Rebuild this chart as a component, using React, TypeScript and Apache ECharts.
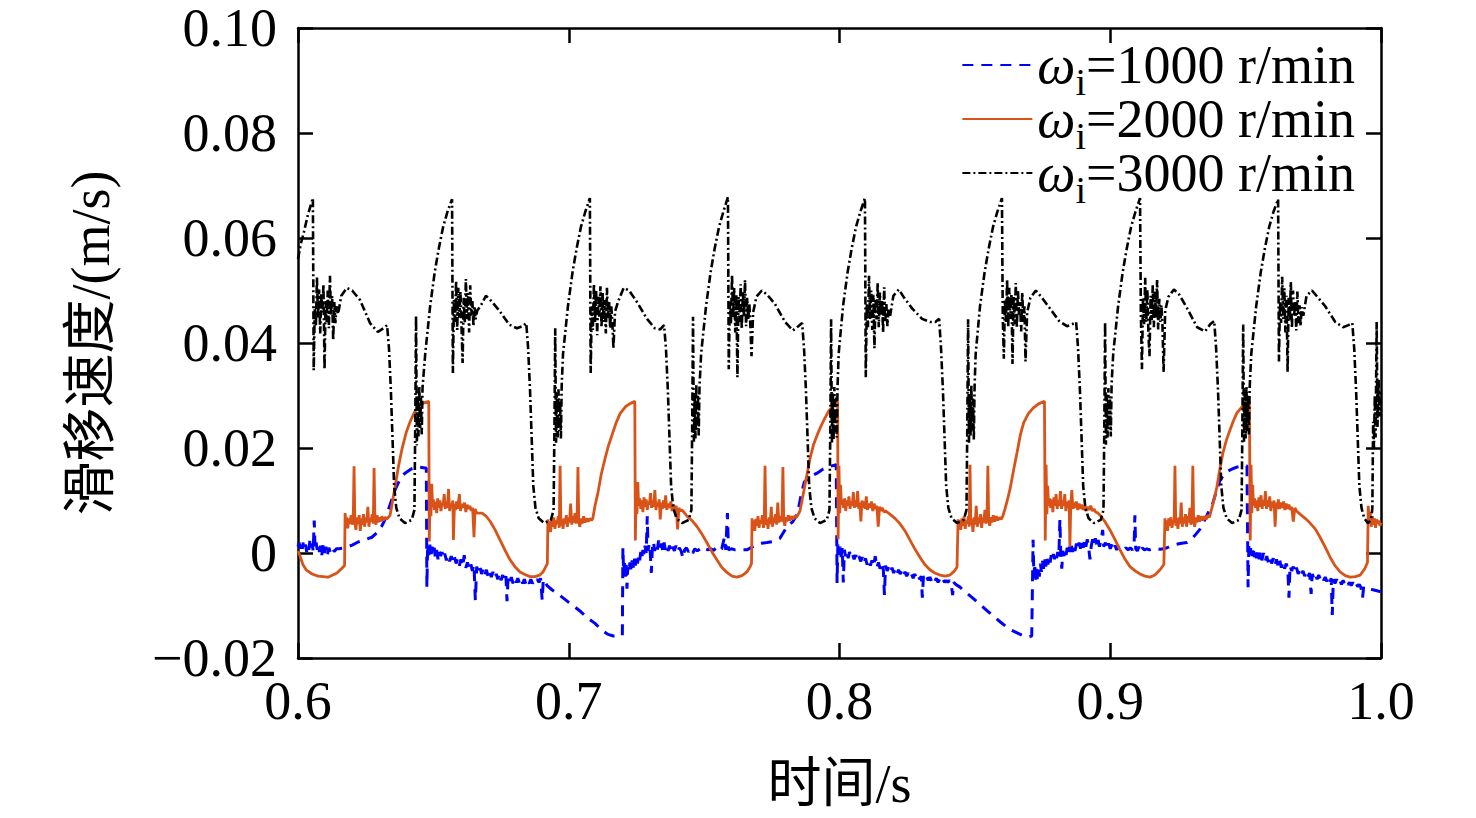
import { useEffect, useRef } from 'react';
import * as echarts from 'echarts';

const FONT = "'Liberation Serif', 'Times New Roman', 'Noto Sans CJK SC', serif";

// 图例名称（ω 与下标 i 由 formatter 拼成富文本）
const seriesNames = ['ωi=1000 r/min', 'ωi=2000 r/min', 'ωi=3000 r/min'];
const seriesColors = ['#0000ff', '#d95319', '#000000'];

const xTicks = [0.6, 0.7, 0.8, 0.9, 1.0];
const yTicks = [-0.02, 0, 0.02, 0.04, 0.06, 0.08, 0.1];

// ω=1000 r/min，[时间 s, 滑移速度 m/s]
const slip1000: [number, number][] = [
  [0.6000,0.0012],[0.6004,0.0020],[0.6008,0.0006],[0.6012,0.0018],[0.6016,0.0008],[0.6020,0.0022],[0.6024,0.0010],[0.6028,0.0016],
  [0.6032,0.0002],[0.6036,0.0014],[0.6040,0.0006],[0.6044,0.0024],[0.6048,0.0010],[0.6052,0.0018],[0.6056,0.0004],[0.6060,0.0062],
  [0.6063,0.0008],[0.6067,0.0020],[0.6071,0.0006],[0.6075,0.0018],[0.6079,0.0002],[0.6083,0.0014],[0.6088,-0.0004],[0.6093,0.0016],
  [0.6098,0.0000],[0.6103,0.0012],[0.6108,-0.0006],[0.6114,0.0010],[0.6120,0.0000],[0.6127,0.0009],[0.6134,0.0003],[0.6142,0.0008],
  [0.6150,0.0008],
  [0.6174,0.0010],[0.6200,0.0015],[0.6222,0.0021],[0.6250,0.0026],[0.6273,0.0030],[0.6295,0.0040],[0.6310,0.0052],[0.6321,0.0063],
  [0.6340,0.0092],[0.6358,0.0120],[0.6376,0.0140],[0.6395,0.0152],[0.6418,0.0160],[0.6440,0.0164],[0.6469,0.0162],[0.6474,0.0162],
  [0.6476,-0.0065],[0.6479,0.0018],[0.6483,-0.0004],[0.6487,0.0016],[0.6491,-0.0010],[0.6495,0.0012],[0.6499,-0.0002],[0.6503,0.0010],
  [0.6507,-0.0008],[0.6512,0.0006],[0.6517,-0.0012],[0.6522,0.0004],[0.6527,-0.0006],[0.6532,0.0002],[0.6537,-0.0010],[0.6542,-0.0001],
  [0.6548,-0.0014],[0.6554,-0.0004],[0.6560,-0.0016],[0.6566,-0.0006],[0.6572,-0.0018],[0.6578,-0.0008],[0.6584,-0.0020],[0.6590,-0.0010],
  [0.6596,-0.0024],[0.6602,-0.0012],[0.6608,-0.0026],[0.6614,-0.0004],[0.6620,-0.0028],[0.6626,-0.0018],[0.6632,-0.0030],[0.6638,-0.0020],
  [0.6644,-0.0034],[0.6650,-0.0022],[0.6655,-0.0090],[0.6660,-0.0026],[0.6666,-0.0036],[0.6672,-0.0026],[0.6678,-0.0040],[0.6684,-0.0030],
  [0.6690,-0.0042],[0.6696,-0.0032],[0.6702,-0.0044],[0.6708,-0.0034],[0.6714,-0.0046],[0.6720,-0.0036],[0.6726,-0.0048],[0.6732,-0.0040],
  [0.6738,-0.0050],[0.6744,-0.0038],[0.6750,-0.0052],[0.6756,-0.0042],[0.6762,-0.0054],[0.6768,-0.0044],[0.6772,-0.0092],[0.6776,-0.0046],
  [0.6782,-0.0056],[0.6788,-0.0046],[0.6794,-0.0058],[0.6800,-0.0048],[0.6806,-0.0056],[0.6812,-0.0048],[0.6818,-0.0058],[0.6824,-0.0050],
  [0.6830,-0.0058],[0.6836,-0.0050],[0.6842,-0.0060],[0.6848,-0.0052],[0.6854,-0.0058],[0.6860,-0.0050],[0.6866,-0.0058],[0.6872,-0.0052],
  [0.6878,-0.0056],[0.6884,-0.0050],[0.6890,-0.0056],[0.6896,-0.0048],[0.6902,-0.0090],[0.6906,-0.0050],
  [0.6920,-0.0062],[0.6938,-0.0070],[0.6960,-0.0078],[0.6980,-0.0086],[0.7000,-0.0094],[0.7023,-0.0103],[0.7045,-0.0112],[0.7070,-0.0124],
  [0.7097,-0.0134],[0.7120,-0.0146],[0.7145,-0.0155],[0.7165,-0.0158],[0.7189,-0.0158],[0.7198,-0.0157],
  [0.7200,0.0010],[0.7203,-0.0040],[0.7206,-0.0018],[0.7209,-0.0045],[0.7212,-0.0022],[0.7215,-0.0068],[0.7218,-0.0026],[0.7222,-0.0036],
  [0.7226,-0.0018],[0.7230,-0.0032],[0.7234,-0.0014],[0.7238,-0.0028],[0.7242,-0.0010],[0.7246,-0.0024],[0.7250,-0.0006],[0.7254,-0.0020],
  [0.7258,-0.0002],[0.7262,-0.0014],[0.7266,0.0002],[0.7270,-0.0010],[0.7274,0.0006],[0.7278,-0.0004],[0.7282,0.0014],[0.7286,0.0000],
  [0.7290,0.0070],[0.7293,0.0004],[0.7297,0.0018],[0.7301,0.0002],[0.7305,-0.0038],[0.7309,0.0010],[0.7313,0.0022],[0.7317,0.0004],
  [0.7322,0.0016],[0.7327,0.0006],[0.7332,0.0024],[0.7337,0.0008],[0.7342,0.0018],[0.7347,0.0004],[0.7352,0.0020],[0.7357,0.0006],
  [0.7362,0.0016],[0.7367,0.0004],[0.7372,0.0014],[0.7378,0.0002],[0.7384,0.0012],[0.7390,0.0004],[0.7396,0.0014],[0.7402,0.0002],
  [0.7408,0.0010],[0.7415,0.0004],[0.7422,-0.0010],[0.7428,0.0006],[0.7435,0.0010],[0.7442,0.0002],[0.7450,0.0008],[0.7458,0.0000],
  [0.7466,0.0008],[0.7475,0.0004],[0.7485,0.0008],[0.7495,0.0004],[0.7505,0.0008],[0.7515,0.0006],[0.7525,0.0008],[0.7535,0.0005],
  [0.7545,0.0010],[0.7555,0.0004],[0.7565,0.0008],[0.7575,0.0030],[0.7580,0.0006],[0.7586,0.0076],[0.7590,0.0006],[0.7600,0.0008],
  [0.7615,0.0006],[0.7630,0.0007],[0.7645,0.0006],[0.7658,0.0006],
  [0.7680,0.0012],[0.7705,0.0018],[0.7732,0.0020],[0.7755,0.0022],[0.7780,0.0028],[0.7806,0.0050],[0.7828,0.0060],[0.7845,0.0075],
  [0.7858,0.0110],[0.7870,0.0135],[0.7890,0.0145],[0.7917,0.0152],[0.7940,0.0160],[0.7965,0.0165],[0.7988,0.0168],
  [0.7991,-0.0057],[0.7994,0.0016],[0.7998,-0.0004],[0.8002,0.0012],[0.8006,-0.0008],[0.8010,0.0010],[0.8014,-0.0056],[0.8018,0.0006],
  [0.8022,-0.0006],[0.8027,0.0004],[0.8032,-0.0010],[0.8037,0.0002],[0.8042,-0.0008],[0.8048,-0.0002],[0.8054,-0.0012],[0.8060,-0.0004],
  [0.8066,-0.0014],[0.8072,-0.0006],[0.8078,-0.0016],[0.8084,-0.0008],[0.8090,-0.0020],[0.8096,-0.0010],[0.8102,-0.0022],[0.8108,-0.0012],
  [0.8114,-0.0024],[0.8120,-0.0014],[0.8126,-0.0026],[0.8132,-0.0006],[0.8138,-0.0028],[0.8144,-0.0018],[0.8150,-0.0030],[0.8156,-0.0020],
  [0.8162,-0.0032],[0.8166,-0.0080],[0.8170,-0.0024],[0.8176,-0.0034],[0.8182,-0.0026],[0.8188,-0.0036],[0.8194,-0.0028],[0.8200,-0.0038],
  [0.8206,-0.0030],[0.8212,-0.0040],[0.8218,-0.0032],[0.8224,-0.0040],[0.8230,-0.0034],[0.8236,-0.0044],[0.8242,-0.0036],[0.8248,-0.0044],
  [0.8254,-0.0038],[0.8260,-0.0046],[0.8266,-0.0040],[0.8272,-0.0048],[0.8278,-0.0040],[0.8284,-0.0048],[0.8290,-0.0042],[0.8296,-0.0050],
  [0.8302,-0.0044],[0.8306,-0.0085],[0.8310,-0.0044],[0.8316,-0.0052],[0.8322,-0.0046],[0.8328,-0.0052],[0.8334,-0.0046],[0.8340,-0.0054],
  [0.8346,-0.0048],[0.8352,-0.0054],[0.8358,-0.0048],[0.8364,-0.0056],[0.8370,-0.0050],[0.8376,-0.0056],[0.8382,-0.0050],[0.8388,-0.0056],
  [0.8394,-0.0052],[0.8400,-0.0056],[0.8406,-0.0052],[0.8412,-0.0058],[0.8418,-0.0080],[0.8422,-0.0056],
  [0.8430,-0.0060],[0.8445,-0.0065],[0.8465,-0.0074],[0.8488,-0.0084],[0.8510,-0.0094],[0.8530,-0.0103],[0.8550,-0.0112],[0.8572,-0.0122],
  [0.8593,-0.0131],[0.8615,-0.0140],[0.8635,-0.0147],[0.8656,-0.0152],[0.8676,-0.0157],[0.8696,-0.0160],[0.8710,-0.0158],
  [0.8715,0.0025],[0.8718,-0.0045],[0.8721,-0.0020],[0.8724,-0.0057],[0.8727,-0.0030],[0.8730,-0.0050],[0.8734,-0.0025],[0.8738,-0.0045],
  [0.8742,-0.0020],[0.8746,-0.0036],[0.8750,-0.0015],[0.8754,-0.0030],[0.8758,-0.0012],[0.8762,-0.0026],[0.8766,-0.0008],[0.8770,-0.0022],
  [0.8774,-0.0006],[0.8778,-0.0018],[0.8782,-0.0004],[0.8786,-0.0014],[0.8790,-0.0002],[0.8794,-0.0012],[0.8798,0.0000],[0.8802,-0.0010],
  [0.8806,0.0002],[0.8810,-0.0008],[0.8814,0.0064],[0.8817,0.0000],[0.8821,-0.0030],[0.8825,0.0004],[0.8829,-0.0006],[0.8833,0.0008],
  [0.8837,-0.0004],[0.8841,0.0010],[0.8845,-0.0002],[0.8849,0.0012],[0.8853,0.0000],[0.8857,0.0014],[0.8861,0.0002],[0.8865,0.0016],
  [0.8870,0.0004],[0.8875,0.0018],[0.8880,0.0006],[0.8885,0.0020],[0.8890,0.0008],[0.8895,0.0022],[0.8900,0.0010],[0.8905,0.0024],
  [0.8910,0.0012],[0.8915,0.0026],[0.8920,0.0012],[0.8925,-0.0012],[0.8930,0.0014],[0.8935,0.0026],[0.8940,0.0014],[0.8945,0.0028],
  [0.8950,0.0014],[0.8955,0.0026],[0.8960,0.0012],[0.8966,0.0024],[0.8972,0.0044],[0.8976,0.0012],[0.8982,0.0020],[0.8988,0.0008],
  [0.8994,0.0018],[0.9000,0.0008],[0.9006,0.0016],[0.9012,0.0006],[0.9018,0.0014],[0.9024,0.0006],[0.9030,0.0012],[0.9036,0.0008],
  [0.9042,0.0010],[0.9050,0.0006],[0.9058,0.0010],[0.9066,0.0006],[0.9074,0.0010],[0.9082,0.0006],[0.9088,0.0012],[0.9091,0.0072],
  [0.9094,0.0008],[0.9100,0.0004],[0.9106,0.0012],[0.9112,0.0002],[0.9118,0.0010],[0.9126,0.0006],[0.9135,0.0008],[0.9145,0.0006],
  [0.9155,0.0008],[0.9165,0.0007],[0.9175,0.0008],[0.9185,0.0007],[0.9195,0.0008],
  [0.9210,0.0010],[0.9232,0.0015],[0.9258,0.0018],[0.9283,0.0020],[0.9300,0.0026],[0.9315,0.0035],[0.9331,0.0045],[0.9350,0.0064],
  [0.9365,0.0080],[0.9376,0.0090],[0.9392,0.0118],[0.9405,0.0138],[0.9418,0.0148],[0.9435,0.0156],[0.9450,0.0160],[0.9470,0.0164],
  [0.9490,0.0166],[0.9505,0.0166],
  [0.9509,-0.0065],[0.9512,0.0016],[0.9516,-0.0004],[0.9520,0.0014],[0.9524,-0.0006],[0.9528,0.0012],[0.9532,-0.0008],[0.9536,0.0008],
  [0.9540,-0.0010],[0.9545,0.0006],[0.9550,-0.0012],[0.9555,0.0003],[0.9560,-0.0014],[0.9566,0.0000],[0.9572,-0.0016],[0.9578,-0.0006],
  [0.9584,-0.0018],[0.9590,-0.0008],[0.9596,-0.0020],[0.9602,-0.0010],[0.9608,-0.0024],[0.9614,-0.0012],[0.9620,-0.0026],[0.9626,-0.0014],
  [0.9632,-0.0028],[0.9638,-0.0016],[0.9644,-0.0030],[0.9650,-0.0020],[0.9656,-0.0032],[0.9660,-0.0085],[0.9664,-0.0024],[0.9670,-0.0034],
  [0.9676,-0.0026],[0.9682,-0.0038],[0.9688,-0.0028],[0.9694,-0.0040],[0.9700,-0.0032],[0.9706,-0.0042],[0.9712,-0.0034],[0.9718,-0.0044],
  [0.9724,-0.0036],[0.9730,-0.0046],[0.9736,-0.0038],[0.9742,-0.0078],[0.9746,-0.0040],[0.9752,-0.0048],[0.9758,-0.0040],[0.9764,-0.0050],
  [0.9770,-0.0042],[0.9776,-0.0050],[0.9782,-0.0044],[0.9788,-0.0052],[0.9794,-0.0046],[0.9800,-0.0054],[0.9806,-0.0046],[0.9812,-0.0056],
  [0.9816,-0.0048],[0.9820,-0.0118],[0.9824,-0.0050],[0.9830,-0.0058],[0.9836,-0.0050],[0.9842,-0.0058],[0.9848,-0.0052],[0.9854,-0.0060],
  [0.9860,-0.0052],[0.9866,-0.0060],[0.9872,-0.0054],[0.9878,-0.0060],[0.9884,-0.0056],[0.9890,-0.0062],[0.9896,-0.0056],[0.9902,-0.0064],
  [0.9908,-0.0058],[0.9914,-0.0064],[0.9920,-0.0060],[0.9926,-0.0066],[0.9932,-0.0085],[0.9936,-0.0064],[0.9950,-0.0068],[0.9970,-0.0070],
  [0.9985,-0.0072],[1.0000,-0.0074],
];

// ω=2000 r/min
const slip2000: [number, number][] = [
  [0.6000,0.0004],[0.6007,-0.0005],[0.6018,-0.0022],[0.6030,-0.0032],[0.6052,-0.0040],[0.6074,-0.0044],[0.6111,-0.0046],[0.6144,-0.0038],
  [0.6166,-0.0027],[0.6172,-0.0024],
  [0.6174,0.0076],[0.6177,0.0052],[0.6180,0.0068],[0.6184,0.0047],[0.6188,0.0066],[0.6192,0.0056],[0.6196,0.0072],[0.6200,0.0054],
  [0.6204,0.0064],[0.6207,0.0165],[0.6210,0.0058],[0.6214,0.0044],[0.6218,0.0068],[0.6222,0.0055],[0.6226,0.0072],[0.6230,0.0042],
  [0.6234,0.0066],[0.6238,0.0054],[0.6242,0.0074],[0.6246,0.0050],[0.6250,0.0068],[0.6254,0.0058],[0.6258,0.0088],[0.6262,0.0050],
  [0.6266,0.0067],[0.6270,0.0060],[0.6274,0.0074],[0.6278,0.0056],[0.6281,0.0162],[0.6284,0.0062],[0.6288,0.0054],[0.6292,0.0072],
  [0.6296,0.0058],[0.6300,0.0068],[0.6305,0.0060],[0.6310,0.0070],[0.6316,0.0062],[0.6322,0.0068],[0.6328,0.0065],[0.6334,0.0068],
  [0.6340,0.0072],
  [0.6348,0.0095],[0.6358,0.0125],[0.6370,0.0162],[0.6384,0.0198],[0.6400,0.0230],[0.6414,0.0250],[0.6430,0.0268],[0.6445,0.0279],
  [0.6465,0.0286],[0.6483,0.0289],
  [0.6485,0.0022],[0.6488,0.0120],[0.6491,0.0070],[0.6494,0.0132],[0.6497,0.0088],
  [0.6500,0.0102],[0.6504,0.0082],[0.6508,0.0098],[0.6512,0.0076],[0.6516,0.0104],[0.6520,0.0086],[0.6524,0.0100],[0.6528,0.0080],
  [0.6532,0.0096],[0.6536,0.0090],[0.6540,0.0112],[0.6544,0.0084],[0.6548,0.0098],[0.6552,0.0086],[0.6556,0.0122],[0.6560,0.0080],
  [0.6564,0.0094],[0.6568,0.0088],[0.6572,0.0100],[0.6574,0.0025],[0.6578,0.0094],[0.6582,0.0082],[0.6586,0.0098],[0.6590,0.0084],
  [0.6596,0.0112],[0.6600,0.0080],[0.6605,0.0094],[0.6610,0.0086],[0.6615,0.0096],[0.6620,0.0078],[0.6625,0.0092],[0.6630,0.0084],
  [0.6635,0.0090],[0.6640,0.0080],[0.6645,0.0086],[0.6650,0.0030],[0.6654,0.0084],[0.6658,0.0078],
  [0.6662,0.0076],[0.6680,0.0076],[0.6695,0.0070],[0.6710,0.0060],[0.6728,0.0044],[0.6746,0.0025],[0.6764,0.0006],[0.6782,-0.0012],
  [0.6801,-0.0026],[0.6820,-0.0036],[0.6838,-0.0041],[0.6857,-0.0045],[0.6875,-0.0045],[0.6893,-0.0042],[0.6905,-0.0036],[0.6917,-0.0024],
  [0.6921,-0.0020],
  [0.6923,0.0064],[0.6926,0.0044],[0.6929,0.0060],[0.6933,0.0040],[0.6937,0.0064],[0.6941,0.0050],[0.6945,0.0068],[0.6949,0.0046],
  [0.6953,0.0062],[0.6957,0.0055],[0.6961,0.0070],[0.6965,0.0048],[0.6968,0.0166],[0.6971,0.0052],[0.6975,0.0064],[0.6979,0.0046],
  [0.6983,0.0066],[0.6987,0.0056],[0.6991,0.0072],[0.6995,0.0050],[0.6999,0.0068],[0.7003,0.0058],[0.7007,0.0094],[0.7011,0.0054],
  [0.7015,0.0070],[0.7019,0.0058],[0.7023,0.0076],[0.7027,0.0056],[0.7031,0.0068],[0.7034,0.0164],[0.7037,0.0060],[0.7041,0.0050],
  [0.7045,0.0066],[0.7050,0.0056],[0.7055,0.0070],[0.7060,0.0058],[0.7066,0.0066],[0.7072,0.0060],[0.7078,0.0066],[0.7084,0.0062],
  [0.7089,0.0066],
  [0.7097,0.0090],[0.7108,0.0115],[0.7120,0.0150],[0.7134,0.0180],[0.7147,0.0205],[0.7160,0.0225],[0.7175,0.0248],[0.7190,0.0266],
  [0.7210,0.0279],[0.7228,0.0285],[0.7244,0.0289],
  [0.7246,0.0024],[0.7249,0.0122],[0.7252,0.0074],[0.7255,0.0135],[0.7258,0.0090],
  [0.7262,0.0104],[0.7266,0.0084],[0.7270,0.0100],[0.7274,0.0078],[0.7278,0.0106],[0.7282,0.0088],[0.7286,0.0102],[0.7290,0.0082],
  [0.7294,0.0098],[0.7298,0.0092],[0.7302,0.0114],[0.7306,0.0086],[0.7310,0.0100],[0.7314,0.0088],[0.7318,0.0120],[0.7322,0.0082],
  [0.7326,0.0096],[0.7330,0.0089],[0.7334,0.0102],[0.7338,0.0064],[0.7342,0.0096],[0.7346,0.0084],[0.7350,0.0100],[0.7354,0.0086],
  [0.7358,0.0110],[0.7362,0.0082],[0.7367,0.0094],[0.7372,0.0086],[0.7377,0.0098],[0.7382,0.0080],[0.7387,0.0092],[0.7392,0.0084],
  [0.7397,0.0090],[0.7402,0.0045],[0.7407,0.0086],[0.7412,0.0080],[0.7418,0.0082],
  [0.7425,0.0078],[0.7437,0.0070],[0.7455,0.0062],[0.7474,0.0050],[0.7492,0.0036],[0.7511,0.0019],[0.7529,0.0002],[0.7547,-0.0013],
  [0.7565,-0.0027],[0.7584,-0.0037],[0.7603,-0.0044],[0.7621,-0.0046],[0.7640,-0.0043],[0.7658,-0.0036],[0.7670,-0.0026],[0.7675,-0.0020],
  [0.7677,0.0066],[0.7680,0.0046],[0.7683,0.0062],[0.7687,0.0042],[0.7691,0.0065],[0.7695,0.0052],[0.7699,0.0070],[0.7703,0.0048],
  [0.7707,0.0063],[0.7711,0.0056],[0.7715,0.0072],[0.7719,0.0048],[0.7722,0.0060],[0.7725,0.0166],[0.7728,0.0054],[0.7732,0.0064],
  [0.7736,0.0046],[0.7740,0.0068],[0.7744,0.0055],[0.7748,0.0088],[0.7752,0.0050],[0.7756,0.0068],[0.7760,0.0057],[0.7764,0.0074],
  [0.7768,0.0054],[0.7772,0.0096],[0.7776,0.0058],[0.7780,0.0070],[0.7784,0.0060],[0.7788,0.0074],[0.7791,0.0164],[0.7794,0.0062],
  [0.7798,0.0052],[0.7802,0.0068],[0.7806,0.0060],[0.7811,0.0072],[0.7816,0.0062],[0.7822,0.0070],[0.7828,0.0064],[0.7834,0.0070],
  [0.7840,0.0068],[0.7846,0.0072],
  [0.7854,0.0080],[0.7866,0.0112],[0.7880,0.0150],[0.7892,0.0182],[0.7904,0.0206],[0.7917,0.0224],[0.7930,0.0240],[0.7945,0.0256],
  [0.7960,0.0270],[0.7976,0.0280],[0.7993,0.0288],
  [0.7995,0.0026],[0.7998,0.0166],[0.8001,0.0076],[0.8004,0.0130],[0.8007,0.0092],
  [0.8011,0.0102],[0.8015,0.0086],[0.8019,0.0104],[0.8023,0.0080],[0.8027,0.0100],[0.8031,0.0090],[0.8035,0.0108],[0.8039,0.0084],
  [0.8043,0.0098],[0.8047,0.0090],[0.8051,0.0116],[0.8055,0.0086],[0.8059,0.0100],[0.8063,0.0088],[0.8067,0.0118],[0.8071,0.0084],
  [0.8075,0.0096],[0.8079,0.0060],[0.8083,0.0100],[0.8087,0.0086],[0.8091,0.0098],[0.8095,0.0084],[0.8099,0.0108],[0.8103,0.0082],
  [0.8108,0.0094],[0.8113,0.0086],[0.8118,0.0098],[0.8123,0.0080],[0.8128,0.0094],[0.8133,0.0084],[0.8138,0.0090],[0.8143,0.0050],
  [0.8148,0.0088],[0.8153,0.0080],[0.8158,0.0086],[0.8164,0.0078],[0.8170,0.0080],
  [0.8186,0.0074],[0.8205,0.0066],[0.8223,0.0056],[0.8242,0.0042],[0.8260,0.0025],[0.8278,0.0008],[0.8297,-0.0008],[0.8315,-0.0022],
  [0.8334,-0.0032],[0.8352,-0.0038],[0.8371,-0.0042],[0.8390,-0.0044],[0.8408,-0.0042],[0.8425,-0.0034],[0.8434,-0.0027],
  [0.8438,0.0064],[0.8441,0.0046],[0.8444,0.0062],[0.8448,0.0044],[0.8452,0.0066],[0.8456,0.0052],[0.8460,0.0070],[0.8464,0.0046],
  [0.8468,0.0062],[0.8472,0.0056],[0.8476,0.0070],[0.8479,0.0050],[0.8482,0.0168],[0.8485,0.0054],[0.8489,0.0064],[0.8493,0.0040],
  [0.8497,0.0068],[0.8501,0.0054],[0.8505,0.0090],[0.8509,0.0050],[0.8513,0.0068],[0.8517,0.0056],[0.8521,0.0074],[0.8525,0.0048],
  [0.8529,0.0068],[0.8533,0.0058],[0.8537,0.0082],[0.8541,0.0056],[0.8545,0.0068],[0.8548,0.0166],[0.8551,0.0062],[0.8555,0.0052],
  [0.8559,0.0068],[0.8563,0.0058],[0.8568,0.0072],[0.8573,0.0060],[0.8579,0.0070],[0.8585,0.0062],[0.8591,0.0068],[0.8597,0.0064],
  [0.8603,0.0070],
  [0.8612,0.0085],[0.8622,0.0105],[0.8630,0.0122],[0.8643,0.0158],[0.8656,0.0192],[0.8668,0.0225],[0.8680,0.0248],[0.8697,0.0265],
  [0.8715,0.0276],[0.8735,0.0284],[0.8757,0.0289],
  [0.8760,0.0024],[0.8763,0.0168],[0.8766,0.0074],[0.8769,0.0128],[0.8772,0.0090],
  [0.8776,0.0104],[0.8780,0.0086],[0.8784,0.0102],[0.8788,0.0078],[0.8792,0.0106],[0.8796,0.0090],[0.8800,0.0112],[0.8804,0.0084],
  [0.8808,0.0100],[0.8812,0.0090],[0.8816,0.0118],[0.8820,0.0084],[0.8824,0.0100],[0.8828,0.0090],[0.8832,0.0112],[0.8836,0.0080],
  [0.8840,0.0098],[0.8844,0.0086],[0.8848,0.0100],[0.8851,0.0012],[0.8854,0.0088],[0.8858,0.0120],[0.8862,0.0084],[0.8866,0.0096],
  [0.8870,0.0086],[0.8875,0.0098],[0.8880,0.0082],[0.8885,0.0094],[0.8890,0.0084],[0.8895,0.0092],[0.8900,0.0082],[0.8905,0.0090],
  [0.8910,0.0080],[0.8916,0.0088],[0.8922,0.0082],[0.8928,0.0090],[0.8934,0.0080],[0.8940,0.0084],[0.8946,0.0078],
  [0.8955,0.0076],[0.8962,0.0072],[0.8980,0.0060],[0.8999,0.0044],[0.9018,0.0025],[0.9036,0.0006],[0.9055,-0.0012],[0.9073,-0.0026],
  [0.9092,-0.0034],[0.9110,-0.0040],[0.9128,-0.0044],[0.9147,-0.0046],[0.9165,-0.0042],[0.9184,-0.0032],[0.9198,-0.0022],
  [0.9202,0.0066],[0.9205,0.0046],[0.9208,0.0062],[0.9212,0.0042],[0.9216,0.0066],[0.9220,0.0052],[0.9224,0.0068],[0.9228,0.0048],
  [0.9232,0.0062],[0.9236,0.0058],[0.9239,0.0166],[0.9242,0.0052],[0.9246,0.0066],[0.9250,0.0046],[0.9254,0.0068],[0.9258,0.0056],
  [0.9262,0.0096],[0.9266,0.0050],[0.9270,0.0068],[0.9274,0.0056],[0.9278,0.0074],[0.9282,0.0050],[0.9286,0.0070],[0.9290,0.0058],
  [0.9294,0.0086],[0.9298,0.0054],[0.9302,0.0066],[0.9305,0.0166],[0.9308,0.0060],[0.9312,0.0050],[0.9316,0.0068],[0.9320,0.0058],
  [0.9325,0.0072],[0.9330,0.0060],[0.9336,0.0070],[0.9342,0.0062],[0.9348,0.0070],[0.9354,0.0064],[0.9360,0.0072],[0.9366,0.0068],
  [0.9375,0.0085],[0.9385,0.0105],[0.9394,0.0126],[0.9405,0.0160],[0.9416,0.0190],[0.9429,0.0215],[0.9442,0.0234],[0.9455,0.0252],
  [0.9468,0.0267],[0.9487,0.0279],[0.9505,0.0286],[0.9514,0.0289],
  [0.9517,0.0024],[0.9520,0.0168],[0.9523,0.0076],[0.9526,0.0130],[0.9529,0.0090],
  [0.9533,0.0104],[0.9537,0.0086],[0.9541,0.0100],[0.9545,0.0080],[0.9549,0.0106],[0.9553,0.0088],[0.9557,0.0110],[0.9561,0.0084],
  [0.9565,0.0100],[0.9569,0.0090],[0.9573,0.0118],[0.9577,0.0084],[0.9581,0.0100],[0.9585,0.0088],[0.9589,0.0108],[0.9593,0.0080],
  [0.9597,0.0098],[0.9601,0.0086],[0.9605,0.0100],[0.9609,0.0050],[0.9613,0.0096],[0.9617,0.0084],[0.9621,0.0102],[0.9625,0.0084],
  [0.9630,0.0096],[0.9635,0.0086],[0.9640,0.0098],[0.9645,0.0082],[0.9650,0.0094],[0.9655,0.0084],[0.9660,0.0092],[0.9665,0.0082],
  [0.9670,0.0088],[0.9676,0.0060],[0.9682,0.0086],[0.9688,0.0080],
  [0.9701,0.0074],[0.9720,0.0066],[0.9738,0.0057],[0.9757,0.0046],[0.9775,0.0030],[0.9794,0.0011],[0.9812,-0.0008],[0.9830,-0.0024],
  [0.9849,-0.0036],[0.9868,-0.0043],[0.9886,-0.0046],[0.9905,-0.0045],[0.9923,-0.0042],[0.9940,-0.0030],[0.9950,-0.0018],
  [0.9953,0.0090],[0.9956,0.0058],[0.9960,0.0078],[0.9964,0.0050],[0.9968,0.0070],[0.9972,0.0054],[0.9976,0.0066],[0.9980,0.0048],
  [0.9984,0.0064],[0.9988,0.0056],[0.9992,0.0062],[0.9996,0.0052],[1.0000,0.0058],
];

// ω=3000 r/min
const slip3000: [number, number][] = [
  [0.6000,0.0560],[0.6010,0.0588],[0.6022,0.0612],[0.6037,0.0645],[0.6048,0.0664],[0.6055,0.0676],
  [0.6058,0.0348],[0.6062,0.0470],[0.6066,0.0432],[0.6070,0.0525],[0.6074,0.0448],[0.6078,0.0502],[0.6082,0.0418],[0.6086,0.0495],
  [0.6090,0.0458],[0.6094,0.0512],[0.6098,0.0350],[0.6102,0.0480],[0.6106,0.0440],[0.6110,0.0500],[0.6114,0.0428],[0.6118,0.0528],
  [0.6122,0.0452],[0.6126,0.0490],[0.6130,0.0405],[0.6134,0.0478],[0.6138,0.0438],[0.6142,0.0470],[0.6148,0.0455],
  [0.6160,0.0490],[0.6180,0.0505],[0.6200,0.0500],[0.6229,0.0482],[0.6266,0.0438],[0.6295,0.0421],[0.6315,0.0428],[0.6329,0.0434],
  [0.6336,0.0390],[0.6343,0.0310],[0.6349,0.0220],[0.6355,0.0128],[0.6363,0.0086],[0.6375,0.0066],[0.6395,0.0057],[0.6420,0.0063],
  [0.6430,0.0082],
  [0.6433,0.0240],[0.6436,0.0452],[0.6439,0.0205],[0.6442,0.0300],[0.6445,0.0222],[0.6448,0.0318],[0.6451,0.0238],[0.6454,0.0296],
  [0.6457,0.0226],[0.6460,0.0316],
  [0.6470,0.0380],[0.6488,0.0470],[0.6505,0.0535],[0.6520,0.0580],[0.6536,0.0621],[0.6552,0.0650],[0.6569,0.0674],
  [0.6572,0.0343],[0.6576,0.0482],[0.6580,0.0440],[0.6584,0.0518],[0.6588,0.0425],[0.6592,0.0505],[0.6596,0.0448],[0.6600,0.0498],
  [0.6604,0.0430],[0.6608,0.0362],[0.6612,0.0486],[0.6616,0.0438],[0.6620,0.0522],[0.6624,0.0446],[0.6628,0.0495],[0.6632,0.0420],
  [0.6636,0.0510],[0.6640,0.0452],[0.6644,0.0480],[0.6648,0.0432],[0.6652,0.0470],[0.6656,0.0445],[0.6662,0.0462],
  [0.6674,0.0470],[0.6694,0.0490],[0.6714,0.0480],[0.6743,0.0462],[0.6780,0.0435],[0.6809,0.0428],[0.6829,0.0432],[0.6843,0.0438],
  [0.6850,0.0390],[0.6857,0.0310],[0.6863,0.0220],[0.6869,0.0128],[0.6877,0.0086],[0.6889,0.0066],[0.6909,0.0057],[0.6934,0.0063],
  [0.6944,0.0082],
  [0.6947,0.0230],[0.6950,0.0428],[0.6953,0.0210],[0.6956,0.0305],[0.6959,0.0220],[0.6962,0.0312],[0.6965,0.0232],[0.6968,0.0290],
  [0.6971,0.0218],[0.6974,0.0320],
  [0.6979,0.0380],[0.6997,0.0470],[0.7014,0.0535],[0.7029,0.0580],[0.7045,0.0621],[0.7061,0.0650],[0.7078,0.0676],
  [0.7081,0.0343],[0.7085,0.0470],[0.7089,0.0425],[0.7093,0.0512],[0.7097,0.0440],[0.7101,0.0500],[0.7105,0.0415],[0.7109,0.0488],
  [0.7113,0.0450],[0.7117,0.0508],[0.7121,0.0430],[0.7125,0.0495],[0.7129,0.0440],[0.7133,0.0482],[0.7137,0.0418],[0.7141,0.0505],
  [0.7145,0.0448],[0.7149,0.0478],[0.7153,0.0428],[0.7157,0.0470],[0.7161,0.0440],[0.7165,0.0390],[0.7171,0.0460],
  [0.7183,0.0480],[0.7203,0.0505],[0.7223,0.0500],[0.7252,0.0478],[0.7289,0.0446],[0.7318,0.0428],[0.7338,0.0426],[0.7352,0.0434],
  [0.7359,0.0390],[0.7366,0.0310],[0.7372,0.0220],[0.7378,0.0128],[0.7386,0.0086],[0.7398,0.0066],[0.7418,0.0057],[0.7443,0.0063],
  [0.7453,0.0082],
  [0.7456,0.0245],[0.7459,0.0450],[0.7462,0.0212],[0.7465,0.0298],[0.7468,0.0218],[0.7471,0.0322],[0.7474,0.0236],[0.7477,0.0302],
  [0.7480,0.0224],[0.7483,0.0318],
  [0.7489,0.0380],[0.7507,0.0470],[0.7524,0.0535],[0.7539,0.0580],[0.7555,0.0621],[0.7571,0.0650],[0.7588,0.0678],
  [0.7591,0.0350],[0.7595,0.0478],[0.7599,0.0436],[0.7603,0.0530],[0.7607,0.0448],[0.7611,0.0505],[0.7615,0.0420],[0.7619,0.0492],
  [0.7623,0.0335],[0.7627,0.0488],[0.7631,0.0440],[0.7635,0.0512],[0.7639,0.0426],[0.7643,0.0498],[0.7647,0.0450],[0.7651,0.0520],
  [0.7655,0.0432],[0.7659,0.0486],[0.7663,0.0444],[0.7667,0.0476],[0.7671,0.0430],[0.7675,0.0375],[0.7681,0.0458],
  [0.7693,0.0488],[0.7713,0.0500],[0.7733,0.0492],[0.7762,0.0474],[0.7799,0.0440],[0.7828,0.0424],[0.7848,0.0432],[0.7862,0.0438],
  [0.7869,0.0390],[0.7876,0.0310],[0.7882,0.0220],[0.7888,0.0128],[0.7896,0.0086],[0.7908,0.0066],[0.7928,0.0057],[0.7953,0.0063],
  [0.7963,0.0082],
  [0.7966,0.0236],[0.7969,0.0445],[0.7972,0.0208],[0.7975,0.0304],[0.7978,0.0216],[0.7981,0.0316],[0.7984,0.0230],[0.7987,0.0296],
  [0.7990,0.0220],[0.7993,0.0320],
  [0.7997,0.0380],[0.8013,0.0470],[0.8030,0.0535],[0.8045,0.0580],[0.8061,0.0621],[0.8077,0.0650],[0.8094,0.0676],
  [0.8097,0.0335],[0.8101,0.0475],[0.8105,0.0430],[0.8109,0.0528],[0.8113,0.0446],[0.8117,0.0500],[0.8121,0.0425],[0.8125,0.0492],
  [0.8129,0.0390],[0.8133,0.0485],[0.8137,0.0445],[0.8141,0.0515],[0.8145,0.0430],[0.8149,0.0496],[0.8153,0.0452],[0.8157,0.0482],
  [0.8161,0.0420],[0.8165,0.0506],[0.8169,0.0440],[0.8173,0.0474],[0.8177,0.0432],[0.8181,0.0466],[0.8187,0.0452],
  [0.8199,0.0490],[0.8219,0.0502],[0.8239,0.0486],[0.8268,0.0466],[0.8305,0.0446],[0.8334,0.0440],[0.8354,0.0440],[0.8368,0.0446],
  [0.8375,0.0390],[0.8382,0.0310],[0.8388,0.0220],[0.8394,0.0128],[0.8402,0.0086],[0.8414,0.0066],[0.8434,0.0057],[0.8459,0.0063],
  [0.8469,0.0082],
  [0.8472,0.0242],[0.8475,0.0445],[0.8478,0.0210],[0.8481,0.0300],[0.8484,0.0224],[0.8487,0.0320],[0.8490,0.0234],[0.8493,0.0294],
  [0.8496,0.0216],[0.8499,0.0318],
  [0.8503,0.0380],[0.8519,0.0470],[0.8536,0.0535],[0.8551,0.0580],[0.8567,0.0621],[0.8583,0.0650],[0.8600,0.0676],
  [0.8603,0.0450],[0.8607,0.0370],[0.8611,0.0482],[0.8615,0.0440],[0.8619,0.0520],[0.8623,0.0430],[0.8627,0.0505],[0.8631,0.0446],
  [0.8635,0.0494],[0.8639,0.0360],[0.8643,0.0488],[0.8647,0.0436],[0.8651,0.0514],[0.8655,0.0428],[0.8659,0.0500],[0.8663,0.0454],
  [0.8667,0.0478],[0.8671,0.0422],[0.8675,0.0496],[0.8679,0.0440],[0.8683,0.0470],[0.8687,0.0365],[0.8693,0.0458],
  [0.8705,0.0486],[0.8725,0.0500],[0.8745,0.0488],[0.8774,0.0468],[0.8811,0.0442],[0.8840,0.0432],[0.8860,0.0436],[0.8874,0.0440],
  [0.8881,0.0390],[0.8888,0.0310],[0.8894,0.0220],[0.8900,0.0128],[0.8908,0.0086],[0.8920,0.0066],[0.8940,0.0057],[0.8965,0.0063],
  [0.8975,0.0082],
  [0.8978,0.0238],[0.8981,0.0440],[0.8984,0.0206],[0.8987,0.0302],[0.8990,0.0220],[0.8993,0.0314],[0.8996,0.0236],[0.8999,0.0298],
  [0.9002,0.0222],[0.9005,0.0322],
  [0.9011,0.0380],[0.9029,0.0470],[0.9046,0.0535],[0.9061,0.0580],[0.9077,0.0621],[0.9093,0.0650],[0.9110,0.0676],
  [0.9113,0.0460],[0.9117,0.0350],[0.9121,0.0486],[0.9125,0.0436],[0.9129,0.0524],[0.9133,0.0440],[0.9137,0.0502],[0.9141,0.0418],
  [0.9145,0.0375],[0.9149,0.0490],[0.9153,0.0444],[0.9157,0.0510],[0.9161,0.0430],[0.9165,0.0498],[0.9169,0.0448],[0.9173,0.0520],
  [0.9177,0.0426],[0.9181,0.0484],[0.9185,0.0440],[0.9189,0.0472],[0.9193,0.0432],[0.9197,0.0345],[0.9203,0.0462],
  [0.9215,0.0488],[0.9235,0.0502],[0.9255,0.0492],[0.9284,0.0466],[0.9321,0.0430],[0.9350,0.0422],[0.9370,0.0436],[0.9384,0.0442],
  [0.9391,0.0390],[0.9398,0.0310],[0.9404,0.0220],[0.9410,0.0128],[0.9418,0.0086],[0.9430,0.0066],[0.9450,0.0057],[0.9475,0.0063],
  [0.9485,0.0082],
  [0.9488,0.0240],[0.9491,0.0435],[0.9494,0.0212],[0.9497,0.0306],[0.9500,0.0218],[0.9503,0.0318],[0.9506,0.0232],[0.9509,0.0300],
  [0.9512,0.0226],[0.9515,0.0316],
  [0.9521,0.0380],[0.9539,0.0470],[0.9556,0.0535],[0.9571,0.0580],[0.9587,0.0621],[0.9603,0.0650],[0.9620,0.0674],
  [0.9623,0.0365],[0.9627,0.0480],[0.9631,0.0438],[0.9635,0.0526],[0.9639,0.0446],[0.9643,0.0504],[0.9647,0.0420],[0.9651,0.0490],
  [0.9655,0.0345],[0.9659,0.0486],[0.9663,0.0442],[0.9667,0.0516],[0.9671,0.0428],[0.9675,0.0500],[0.9679,0.0450],[0.9683,0.0480],
  [0.9687,0.0424],[0.9691,0.0498],[0.9695,0.0438],[0.9699,0.0472],[0.9703,0.0432],[0.9707,0.0468],[0.9713,0.0452],
  [0.9725,0.0490],[0.9745,0.0500],[0.9765,0.0488],[0.9794,0.0470],[0.9831,0.0440],[0.9860,0.0430],[0.9880,0.0434],[0.9894,0.0438],
  [0.9901,0.0390],[0.9908,0.0310],[0.9914,0.0220],[0.9920,0.0128],[0.9928,0.0086],[0.9938,0.0066],[0.9952,0.0057],[0.9963,0.0063],
  [0.9968,0.0085],
  [0.9971,0.0250],[0.9974,0.0200],[0.9977,0.0300],[0.9980,0.0220],[0.9984,0.0440],[0.9987,0.0240],[0.9991,0.0330],[0.9995,0.0260],
  [1.0000,0.0310],
];

const seriesData = [slip1000, slip2000, slip3000];
const lineTypes: (number[] | 'solid')[] = [[11, 8], 'solid', [8, 3, 2, 3]];
const lineWidths = [3, 2.8, 2.6];

const axisLineStyle = { color: '#000', width: 2.5 };

function yLabel(v: number) {
  if (Math.abs(v) < 1e-9) return '0';
  if (v < 0) return '\u2212' + Math.abs(v).toFixed(2);
  return v.toFixed(2);
}

export default function App() {
  const chartRef = useRef<HTMLDivElement>(null);

  useEffect(() => {
    if (!chartRef.current) return;
    document.body.style.margin = '0';
    const chart = echarts.init(chartRef.current, undefined, { renderer: 'svg' });

    const xBase = {
      type: 'value' as const,
      min: xTicks[0],
      max: xTicks[xTicks.length - 1],
      interval: 0.1,
      axisLine: { show: true, onZero: false, lineStyle: axisLineStyle },
      axisTick: { show: true, inside: true, length: 15, lineStyle: axisLineStyle },
      splitLine: { show: false },
    };
    const yBase = {
      type: 'value' as const,
      min: yTicks[0],
      max: yTicks[yTicks.length - 1],
      interval: 0.02,
      axisLine: { show: true, onZero: false, lineStyle: axisLineStyle },
      axisTick: { show: true, inside: true, length: 15, lineStyle: axisLineStyle },
      splitLine: { show: false },
    };

    chart.setOption({
      animation: false,
      backgroundColor: '#fff',
      grid: { left: 298, right: 95, top: 28, bottom: 160, containLabel: false, outerBoundsMode: 'none' },
      legend: {
        orient: 'vertical',
        right: 116,
        top: 33,
        itemWidth: 70,
        itemHeight: 18,
        itemGap: -29,
        selectedMode: false,
        data: seriesNames,
        itemStyle: { opacity: 0, borderWidth: 0 },
        formatter: (name: string) => `{w|ω}{s|i}{t|${name.slice(2)}}`,
        textStyle: {
          color: '#000',
          fontFamily: FONT,
          fontSize: 54,
          lineHeight: 54,
          rich: {
            w: { fontFamily: FONT, fontSize: 54, lineHeight: 54, fontStyle: 'italic', color: '#000', verticalAlign: 'top' },
            s: { fontFamily: FONT, fontSize: 38, lineHeight: 38, color: '#000', verticalAlign: 'top', padding: [25, 0, 20, 0] },
            t: { fontFamily: FONT, fontSize: 54, lineHeight: 54, color: '#000', verticalAlign: 'top' },
          },
        },
      },
      xAxis: [
        {
          ...xBase,
          position: 'bottom',
          name: '时间/s',
          nameLocation: 'middle',
          nameGap: 99,
          nameTextStyle: { color: '#000', fontFamily: FONT, fontSize: 54 },
          axisLabel: {
            color: '#000',
            fontFamily: FONT,
            fontSize: 54,
            margin: 16,
            formatter: (v: number) => v.toFixed(1),
          },
        },
        { ...xBase, position: 'top', axisLabel: { show: false } },
      ],
      yAxis: [
        {
          ...yBase,
          position: 'left',
          name: '滑移速度/(m/s)',
          nameLocation: 'middle',
          nameGap: 180,
          nameTextStyle: { color: '#000', fontFamily: FONT, fontSize: 54 },
          axisLabel: {
            color: '#000',
            fontFamily: FONT,
            fontSize: 54,
            margin: 21,
            formatter: yLabel,
          },
        },
        { ...yBase, position: 'right', axisLabel: { show: false } },
      ],
      series: seriesData.map((data, i) => ({
        name: seriesNames[i],
        type: 'line',
        data,
        showSymbol: false,
        symbol: 'none',
        xAxisIndex: 0,
        yAxisIndex: 0,
        lineStyle: { color: seriesColors[i], width: lineWidths[i], type: lineTypes[i] },
        itemStyle: { color: seriesColors[i] },
      })),
    });

    return () => {
      chart.dispose();
    };
  }, []);

  return <div ref={chartRef} style={{ width: 1476, height: 818 }} />;
}
